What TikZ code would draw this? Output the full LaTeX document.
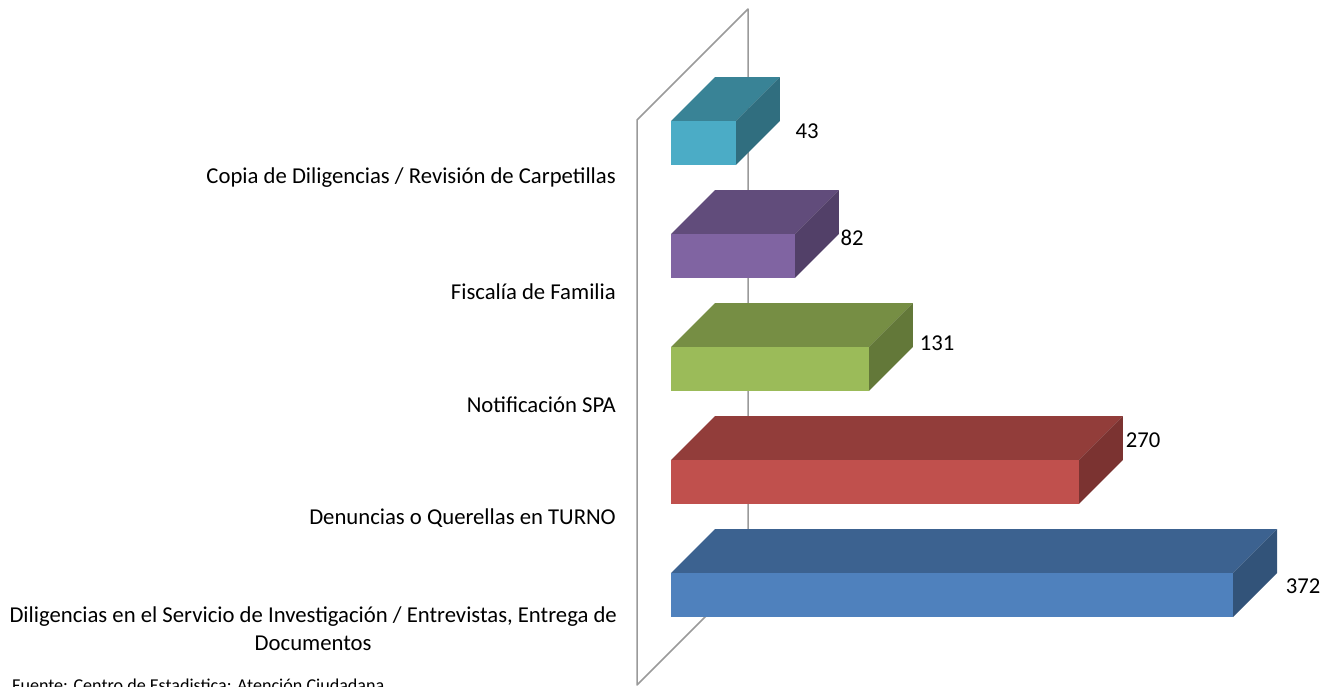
\documentclass[tikz,border=0pt]{standalone}
\usepackage{fontspec}
\setmainfont{Carlito}
\definecolor{wallgray}{HTML}{9A9A9A}
\definecolor{barteal}{HTML}{4BACC6}
\definecolor{barpurple}{HTML}{8064A2}
\definecolor{bargreen}{HTML}{9BBB59}
\definecolor{barred}{HTML}{C0504D}
\definecolor{barblue}{HTML}{4F81BD}
\tikzset{
  catlabel/.style={anchor=east,inner sep=0pt,font=\fontsize{22.7}{28}\selectfont},
  vallabel/.style={inner sep=0pt,font=\fontsize{22.7}{28}\selectfont},
}
\begin{document}
\begin{tikzpicture}[x=1pt,y=-1pt]
\useasboundingbox (0,0) rectangle (1328,686);
% back wall
\draw[wallgray,line width=1.5pt,line join=round]
     (637,120) -- (748,9) -- (748,574) -- (637,685) -- cycle;
% bars: value / top of front face / colour
\foreach \val/\top/\col in {43/121/barteal, 82/234/barpurple,
    131/347/bargreen, 270/460/barred, 372/573/barblue} {
  \pgfmathsetmacro{\xr}{671+1.511*\val}
  \fill[\col!76!black] (671,\top) -- ++(44,-44) -- (\xr+44,\top-44) -- (\xr,\top) -- cycle;
  \fill[\col!64!black] (\xr,\top) -- ++(44,-44) -- ++(0,44) -- ++(-44,44) -- cycle;
  \fill[\col] (671,\top) rectangle (\xr,\top+44);
}
% values
\node[vallabel] (v43)  at (807,131)  {43};
\node[vallabel] (v82)  at (852,238)  {82};
\node[vallabel] (v131) at (937,343)  {131};
\node[vallabel] (v270) at (1143,440) {270};
\node[vallabel] (v372) at (1303,586) {372};
% categories
\node[catlabel] (copia) at (616,178) {Copia de Diligencias / Revisión de Carpetillas};
\node[catlabel] (fiscalia) at (616,292) {Fiscalía de Familia};
\node[catlabel] (notif) at (616,405) {Notificación SPA};
\node[catlabel] (denuncias) at (616,518) {Denuncias o Querellas en TURNO};
\node[catlabel,align=center] (diligencias) at (617,629)
  {Diligencias en el Servicio de Investigación / Entrevistas, Entrega de\\Documentos};
% source, cut by the page edge
\node[anchor=base west,inner sep=0pt,font=\fontsize{18.1}{22}\selectfont] (fuente) at (12,691)
  {Fuente: Centro de Estadistica: Atención Ciudadana};
\end{tikzpicture}
\end{document}
